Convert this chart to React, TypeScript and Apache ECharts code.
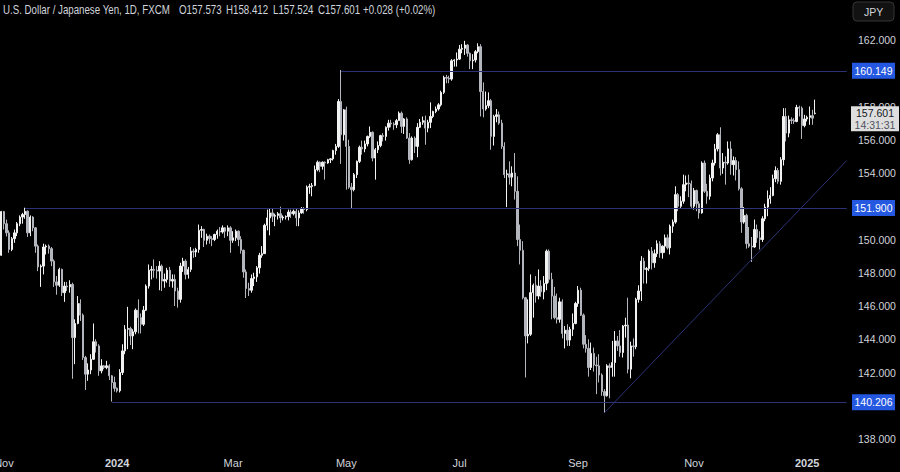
import React, { useEffect, useRef } from 'react';
import * as echarts from 'echarts';

const FONT = "'Liberation Sans', Arial, sans-serif";

// [open, close, low, high] per trading day
const oct23 = [[149.05, 151.68, 149.02, 151.72]];
const nov23 = [
  [151.68, 150.95, 150.6, 151.72], [150.95, 150.4, 150.18, 151.2], [150.4, 149.4, 149.2, 150.55],
  [149.4, 150.05, 149.3, 150.15], [150.05, 150.4, 149.8, 150.6], [150.4, 150.95, 150.2, 151.05],
  [150.95, 151.35, 150.8, 151.45], [151.35, 151.5, 150.95, 151.6], [151.5, 151.7, 151.25, 151.91],
  [151.7, 150.4, 150.15, 151.75], [150.4, 151.35, 150.2, 151.45], [151.35, 150.7, 150.5, 151.4],
  [150.7, 149.6, 149.2, 150.75], [149.6, 148.35, 148.1, 149.7], [148.35, 148.4, 147.15, 148.5],
  [148.4, 149.55, 147.9, 149.75], [149.55, 149.6, 149.1, 149.7], [149.6, 149.45, 149.15, 149.7],
  [149.45, 148.7, 148.4, 149.55], [148.7, 147.45, 147.15, 148.8], [147.45, 147.25, 146.68, 147.8],
  [147.25, 148.2, 147.15, 148.3],
];
const dec23 = [
  [148.2, 146.8, 146.6, 148.25], [146.8, 147.2, 146.25, 147.45], [147.2, 147.15, 146.9, 147.45],
  [147.15, 147.3, 146.8, 147.55], [147.3, 144.1, 141.62, 147.4], [144.1, 144.95, 142.5, 145.2],
  [144.95, 146.15, 144.9, 146.6], [146.15, 145.45, 145.1, 146.4], [145.45, 142.9, 142.75, 145.55],
  [142.9, 141.9, 140.95, 143.0], [141.9, 142.15, 141.5, 142.55], [142.15, 142.8, 141.9, 143.1],
  [142.8, 143.85, 142.75, 144.95], [143.85, 143.6, 143.2, 144.0], [143.6, 142.1, 141.8, 143.7],
  [142.1, 142.4, 141.95, 142.8], [142.4, 142.3, 142.2, 142.45], [142.3, 142.4, 142.2, 142.7],
  [142.4, 141.8, 141.55, 142.5], [141.8, 141.4, 140.25, 141.85], [141.4, 141.05, 140.85, 141.75],
];
const jan24 = [
  [141.05, 140.9, 140.8, 141.1], [140.9, 142.0, 140.8, 142.2], [142.0, 143.3, 141.85, 143.7],
  [143.3, 144.6, 143.1, 144.85], [144.6, 144.65, 143.4, 145.95], [144.65, 144.2, 143.65, 144.75],
  [144.2, 144.45, 143.4, 144.6], [144.45, 145.75, 144.3, 145.85], [145.75, 145.3, 144.35, 146.4],
  [145.3, 144.9, 144.35, 145.55], [144.9, 145.75, 144.8, 146.0], [145.75, 147.2, 145.7, 147.3],
  [147.2, 148.15, 147.05, 148.5], [148.15, 148.2, 147.6, 148.4], [148.2, 148.15, 147.7, 148.8],
  [148.15, 148.1, 147.65, 148.4], [148.1, 148.4, 146.95, 148.7], [148.4, 147.5, 146.9, 148.5],
  [147.5, 147.6, 147.1, 147.95], [147.6, 148.15, 147.4, 148.3], [148.15, 147.5, 147.15, 148.35],
  [147.5, 147.6, 147.1, 147.9], [147.6, 146.9, 146.0, 147.9],
];
const feb24 = [
  [146.9, 146.4, 145.9, 147.1], [146.4, 148.4, 146.2, 148.6], [148.4, 148.7, 148.05, 148.9],
  [148.7, 147.9, 147.6, 148.8], [147.9, 148.2, 147.65, 148.35], [148.2, 149.3, 148.05, 149.55],
  [149.3, 149.25, 148.9, 149.45], [149.25, 149.4, 148.95, 149.5], [149.4, 150.55, 149.2, 150.9],
  [150.55, 150.6, 150.1, 150.8], [150.6, 149.95, 149.55, 150.65], [149.95, 150.2, 149.7, 150.35],
  [150.2, 150.05, 149.75, 150.3], [150.05, 150.0, 149.6, 150.2], [150.0, 150.3, 149.9, 150.35],
  [150.3, 150.5, 150.05, 150.6], [150.5, 150.45, 150.2, 150.75], [150.45, 150.7, 150.35, 150.85],
  [150.7, 150.5, 150.1, 150.75], [150.5, 150.7, 150.2, 150.85], [150.7, 149.95, 149.2, 150.8],
];
const mar24 = [
  [149.95, 150.1, 149.8, 150.5], [150.1, 150.5, 149.9, 150.6], [150.5, 150.0, 149.6, 150.55],
  [150.0, 149.35, 149.15, 150.2], [149.35, 148.05, 147.7, 149.4], [148.05, 147.05, 146.48, 148.2],
  [147.05, 146.95, 146.6, 147.4], [146.95, 147.65, 146.8, 147.9], [147.65, 147.75, 147.2, 148.0],
  [147.75, 148.3, 147.45, 148.4], [148.3, 149.05, 147.95, 149.2], [149.05, 149.15, 148.9, 149.6],
  [149.15, 150.85, 149.15, 150.95], [150.85, 151.3, 150.55, 151.8], [151.3, 151.6, 150.25, 151.85],
  [151.6, 151.4, 151.05, 151.85], [151.4, 151.45, 150.8, 151.55], [151.45, 151.55, 151.2, 151.65],
  [151.55, 151.3, 151.0, 151.97], [151.3, 151.35, 151.15, 151.45], [151.35, 151.38, 151.2, 151.45],
];
const apr24 = [
  [151.38, 151.65, 151.15, 151.8], [151.65, 151.55, 151.3, 151.8], [151.55, 151.7, 151.45, 151.8],
  [151.7, 151.3, 150.8, 151.85], [151.3, 151.6, 150.8, 151.75], [151.6, 151.85, 151.55, 151.95],
  [151.85, 151.8, 151.55, 151.95], [151.8, 153.15, 151.7, 153.25], [153.15, 153.2, 152.75, 153.35],
  [153.2, 153.25, 152.6, 153.4], [153.25, 154.2, 153.2, 154.45], [154.2, 154.65, 154.1, 154.75],
  [154.65, 154.4, 154.05, 154.7], [154.4, 154.65, 154.2, 154.7], [154.65, 154.6, 153.6, 154.7],
  [154.6, 154.8, 154.55, 154.85], [154.8, 154.85, 154.6, 154.9], [154.85, 155.35, 154.75, 155.4],
  [155.35, 155.6, 155.1, 155.75], [155.6, 158.3, 155.5, 158.45], [158.3, 156.3, 154.55, 160.2],
  [156.3, 157.8, 155.95, 157.85],
];
const may24 = [
  [157.8, 155.6, 153.0, 157.99], [155.6, 153.15, 153.05, 156.0], [153.15, 153.0, 151.86, 153.4],
  [153.0, 153.9, 152.9, 154.0], [153.9, 154.7, 153.7, 154.75], [154.7, 155.55, 154.6, 155.65],
  [155.55, 155.45, 155.1, 155.95], [155.45, 155.75, 155.25, 155.95], [155.75, 156.2, 155.6, 156.25],
  [156.2, 156.45, 156.1, 156.8], [156.45, 154.9, 154.7, 156.5], [154.9, 155.4, 153.6, 155.5],
  [155.4, 155.65, 155.2, 155.9], [155.65, 156.25, 155.55, 156.3], [156.25, 156.2, 155.9, 156.4],
  [156.2, 156.75, 155.95, 156.8], [156.75, 157.0, 156.55, 157.2], [157.0, 156.95, 156.75, 157.2],
  [156.95, 156.9, 156.6, 157.05], [156.9, 157.15, 156.7, 157.25], [157.15, 157.6, 157.15, 157.7],
  [157.6, 156.8, 156.4, 157.7], [156.8, 157.25, 156.35, 157.3],
];
const jun24 = [
  [157.25, 156.1, 156.05, 157.35], [156.1, 154.8, 154.55, 156.4], [154.8, 156.1, 154.75, 156.2],
  [156.1, 155.6, 155.2, 156.2], [155.6, 156.75, 154.95, 157.0], [156.75, 157.05, 156.7, 157.25],
  [157.05, 157.15, 156.9, 157.4], [157.15, 156.7, 155.7, 157.45], [156.7, 157.05, 156.45, 157.2],
  [157.05, 157.4, 156.7, 158.25], [157.4, 157.7, 157.3, 157.75], [157.7, 157.85, 157.6, 158.0],
  [157.85, 158.1, 157.75, 158.2], [158.1, 158.85, 158.0, 158.95], [158.85, 159.75, 158.75, 159.85],
  [159.75, 159.7, 159.4, 159.9], [159.7, 159.65, 159.4, 159.85], [159.65, 160.75, 159.55, 160.85],
  [160.75, 160.8, 160.4, 160.85], [160.8, 160.85, 160.4, 161.25],
];
const jul24 = [
  [160.85, 161.45, 160.8, 161.7], [161.45, 161.5, 161.2, 161.75], [161.5, 161.7, 161.1, 161.95],
  [161.7, 161.2, 161.0, 161.75], [161.2, 160.75, 160.25, 161.25], [160.75, 160.8, 160.25, 161.15],
  [160.8, 161.3, 160.65, 161.4], [161.3, 161.6, 161.2, 161.8], [161.6, 158.9, 157.4, 161.75],
  [158.9, 157.85, 157.35, 159.45], [157.85, 158.05, 157.75, 158.9], [158.05, 158.35, 157.9, 158.85],
  [158.35, 156.2, 155.4, 158.45], [156.2, 157.4, 155.65, 157.5], [157.4, 157.5, 157.05, 157.85],
  [157.5, 157.0, 156.9, 157.7], [157.0, 155.6, 155.45, 157.2], [155.6, 153.9, 153.7, 155.85],
  [153.9, 153.95, 151.95, 154.2], [153.95, 153.75, 153.3, 154.7], [153.75, 154.0, 153.2, 154.4],
  [154.0, 152.9, 152.4, 155.2], [152.9, 150.0, 149.6, 153.8],
];
const aug24 = [
  [150.0, 149.35, 148.5, 150.9], [149.35, 146.5, 146.4, 149.9], [146.5, 144.2, 141.7, 146.55],
  [144.2, 144.3, 143.75, 146.4], [144.3, 146.8, 144.2, 147.9], [146.8, 147.25, 145.3, 147.35],
  [147.25, 146.6, 146.2, 147.8], [146.6, 147.2, 146.4, 148.2], [147.2, 146.85, 146.55, 147.55],
  [146.85, 147.35, 146.4, 147.8], [147.35, 149.3, 146.95, 149.4], [149.3, 147.6, 147.4, 149.4],
  [147.6, 146.6, 145.2, 148.0], [146.6, 145.3, 145.2, 147.15], [145.3, 145.2, 144.95, 146.75],
  [145.2, 146.25, 145.0, 146.5], [146.25, 144.35, 144.05, 146.4], [144.35, 144.55, 143.45, 144.8],
  [144.55, 143.95, 143.6, 144.9], [143.95, 144.6, 143.6, 144.75], [144.6, 144.95, 144.2, 145.55],
  [144.95, 146.15, 144.9, 146.25],
];
const sep24 = [
  [146.15, 146.95, 145.95, 147.2], [146.95, 145.45, 145.4, 147.1], [145.45, 143.7, 143.45, 145.55],
  [143.7, 143.45, 143.2, 144.25], [143.45, 142.3, 141.75, 144.0], [142.3, 143.15, 142.15, 143.8],
  [143.15, 142.45, 142.05, 143.5], [142.45, 142.4, 140.7, 142.95], [142.4, 141.85, 141.4, 143.1],
  [141.85, 140.85, 140.6, 141.95], [140.85, 140.6, 139.58, 141.0], [140.6, 142.4, 140.55, 142.5],
  [142.4, 142.3, 140.45, 142.55], [142.3, 142.6, 141.75, 143.9], [142.6, 143.9, 141.75, 144.5],
  [143.9, 143.6, 143.3, 144.2], [143.6, 143.2, 142.95, 144.55], [143.2, 144.8, 142.9, 144.85],
  [144.8, 144.85, 144.1, 145.3], [144.85, 142.2, 141.95, 146.5], [142.2, 143.6, 141.65, 143.85],
];
const oct24 = [
  [143.6, 143.55, 142.95, 144.05], [143.55, 146.4, 143.4, 146.5], [146.4, 146.9, 146.2, 147.25],
  [146.9, 148.7, 146.3, 149.0], [148.7, 148.2, 147.35, 148.9], [148.2, 148.25, 147.35, 148.35],
  [148.25, 149.3, 148.1, 149.4], [149.3, 148.6, 148.2, 149.55], [148.6, 149.15, 148.3, 149.4],
  [149.15, 149.75, 148.95, 149.95], [149.75, 149.2, 148.9, 149.9], [149.2, 149.6, 148.85, 149.65],
  [149.6, 150.1, 149.2, 150.3], [150.1, 149.5, 149.4, 150.3], [149.5, 150.8, 149.1, 150.9],
  [150.8, 151.05, 150.4, 151.2], [151.05, 152.7, 150.95, 153.2], [152.7, 152.0, 151.7, 152.8],
  [152.0, 152.3, 151.9, 152.6], [152.3, 153.3, 152.15, 153.9], [153.3, 153.4, 152.9, 153.85],
  [153.4, 153.35, 152.55, 153.9], [153.35, 152.0, 151.9, 153.55],
];
const nov24 = [
  [152.0, 152.95, 151.8, 153.1], [152.95, 152.15, 151.7, 153.0], [152.15, 151.6, 151.25, 152.3],
  [151.6, 154.6, 151.55, 154.7], [154.6, 152.9, 152.8, 154.75], [152.9, 152.6, 152.15, 153.35],
  [152.6, 153.7, 152.4, 153.9], [153.7, 154.6, 153.5, 154.8], [154.6, 155.45, 154.45, 155.75],
  [155.45, 156.3, 155.3, 156.4], [156.3, 154.3, 153.85, 156.75], [154.3, 154.65, 153.95, 155.2],
  [154.65, 154.6, 153.3, 155.0], [154.6, 155.45, 154.5, 155.9], [155.45, 154.5, 153.9, 155.9],
  [154.5, 154.75, 153.85, 155.0], [154.75, 154.2, 153.55, 154.95], [154.2, 153.05, 152.95, 154.7],
  [153.05, 151.05, 150.4, 153.15], [151.05, 151.45, 150.95, 151.95], [151.45, 149.75, 149.45, 151.55],
];
const dec24 = [
  [149.75, 149.6, 149.5, 150.75], [149.6, 149.55, 148.65, 150.15], [149.55, 150.6, 149.5, 151.2],
  [150.6, 150.1, 149.8, 150.9], [150.1, 150.0, 149.4, 150.5], [150.0, 151.25, 149.85, 151.4],
  [151.25, 151.95, 151.1, 152.15], [151.95, 152.45, 151.4, 152.95], [152.45, 152.65, 152.15, 153.15],
  [152.65, 153.65, 152.6, 153.9], [153.65, 154.15, 153.45, 154.4], [154.15, 153.5, 153.35, 154.3],
  [153.5, 154.8, 153.3, 154.95], [154.8, 157.4, 154.45, 157.9], [157.4, 156.4, 155.9, 157.9],
  [156.4, 157.2, 156.15, 157.45], [157.2, 157.15, 156.95, 157.35], [157.15, 157.1, 156.95, 157.3],
  [157.1, 157.95, 157.05, 158.1], [157.95, 157.9, 157.4, 158.05], [157.9, 156.85, 156.05, 158.0],
  [156.85, 157.25, 156.75, 157.5],
];
const jan25 = [
  [157.25, 157.35, 157.1, 157.45], [157.35, 157.45, 156.9, 158.0], [157.45, 157.3, 156.9, 157.8],
  [157.573, 157.601, 157.524, 158.412],
];

const ohlc = [
  ...oct23, ...nov23, ...dec23, ...jan24, ...feb24, ...mar24, ...apr24, ...may24,
  ...jun24, ...jul24, ...aug24, ...sep24, ...oct24, ...nov24, ...dec24, ...jan25,
];

// tick labels that the level boxes cover (140, 152, 160) are not drawn in the reference
const yTicks = [138, 142, 144, 146, 148, 150, 154, 156, 158, 162];
const Y_MIN = 137.459;
const Y_MAX = 164.406;
const labelMonths = [0, 2, 4, 6, 8, 10];
const monthNames = ['Jan', 'Feb', 'Mar', 'Apr', 'May', 'Jun', 'Jul', 'Aug', 'Sep', 'Oct', 'Nov', 'Dec'];

const levels = [
  { from: '2023-11-13', price: 151.9 },
  { from: '2023-12-28', price: 140.206 },
  { from: '2024-04-29', price: 160.149 },
];
const trendFrom = { date: '2024-09-16', price: 139.58 };
const trendToPrice = 154.75;

const lastPrice = 157.601;
const countdown = '14:31:31';
const titleParts = [
  'U.S. Dollar / Japanese Yen, 1D, FXCM',
  'O157.573',
  'H158.412',
  'L157.524',
  'C157.601',
  '+0.028 (+0.02%)',
];

const TOTAL_SLOTS = 322;

function weekdayDates(n: number): string[] {
  const out: string[] = [];
  let t = Date.UTC(2023, 9, 31);
  while (out.length < n) {
    const d = new Date(t);
    const wd = d.getUTCDay();
    if (wd !== 0 && wd !== 6) out.push(d.toISOString().slice(0, 10));
    t += 86400000;
  }
  return out;
}

export default function App() {
  const ref = useRef<HTMLDivElement>(null);
  useEffect(() => {
    document.body.style.margin = '0';
    document.body.style.background = '#000';
    if (!ref.current) return;
    const chart = echarts.init(ref.current, null, { renderer: 'svg' });
    const dates = weekdayDates(TOTAL_SLOTS);
    const lastCat = dates[dates.length - 1];
    const showIdx = new Set<number>();
    for (let i = 1; i < dates.length; i++) {
      const m = parseInt(dates[i].slice(5, 7), 10) - 1;
      const pm = parseInt(dates[i - 1].slice(5, 7), 10) - 1;
      if (m !== pm && labelMonths.includes(m)) showIdx.add(i);
    }
    const lineColor = '#2c3275';
    chart.setOption({
      animation: false,
      backgroundColor: '#000000',
      grid: { left: 0, right: 52, top: 0, bottom: 24, containLabel: false, outerBoundsMode: 'none' },
      xAxis: {
        type: 'category',
        data: dates,
        boundaryGap: true,
        axisLine: { show: false },
        axisTick: { show: false },
        splitLine: { show: false },
        axisLabel: {
          interval: (i: number) => showIdx.has(i),
          formatter: (v: string) => {
            const m = parseInt(v.slice(5, 7), 10) - 1;
            if (m === 0) return '{y|' + v.slice(0, 4) + '}';
            return monthNames[m];
          },
          color: '#d1d4dc',
          fontSize: 11,
          fontFamily: FONT,
          margin: 9,
          rich: { y: { fontWeight: 'bold', color: '#d1d4dc', fontSize: 11, fontFamily: FONT } },
        },
      },
      yAxis: {
        type: 'value',
        position: 'right',
        min: Y_MIN,
        max: Y_MAX,
        axisLine: { show: false },
        axisTick: { show: false },
        splitLine: { show: false },
        axisLabel: {
          customValues: yTicks,
          formatter: (v: number) => v.toFixed(3),
          color: '#d1d4dc',
          fontSize: 10.5,
          fontFamily: FONT,
          margin: 10,
        },
      },
      series: [
        {
          type: 'candlestick',
          data: ohlc,
          barWidth: '70%',
          barMaxWidth: 2,
          itemStyle: {
            color: '#f2f2f2',
            color0: '#b4b6bd',
            borderColor: '#f2f2f2',
            borderColor0: '#b4b6bd',
            borderWidth: 1,
          },
          markLine: {
            silent: true,
            symbol: 'none',
            animation: false,
            label: { show: false },
            lineStyle: { color: lineColor, width: 1, type: 'solid', opacity: 1 },
            data: [
              ...levels.map((l) => [
                { coord: [l.from, l.price] },
                { coord: [lastCat, l.price] },
              ]),
              [
                { coord: [trendFrom.date, trendFrom.price] },
                { coord: [lastCat, trendToPrice] },
              ],
            ],
          },
        },
      ],
    });

    const yPix = (v: number) => chart.convertToPixel({ yAxisIndex: 0 }, v) as number;
    const graphics: any[] = [];
    const titleX = [3, 179, 226, 273, 318, 363];
    titleParts.forEach((t, i) => {
      graphics.push({
        type: 'text',
        x: titleX[i],
        y: 10,
        scaleX: 0.81,
        z: 100,
        style: { text: t, fill: '#d1d4dc', font: `12px ${FONT}`, verticalAlign: 'middle' },
      });
    });
    graphics.push({
      type: 'rect',
      z: 100,
      shape: { x: 853, y: 2, width: 41, height: 19, r: 4 },
      style: { fill: '#121212', stroke: '#353535', lineWidth: 1 },
    });
    graphics.push({
      type: 'text',
      z: 101,
      x: 873.5,
      y: 11.5,
      style: { text: 'JPY', fill: '#d1d4dc', font: `10.5px ${FONT}`, align: 'center', verticalAlign: 'middle' },
    });
    levels.forEach((l) => {
      const y = yPix(l.price);
      graphics.push({
        type: 'rect',
        z: 100,
        shape: { x: 852, y: y - 8, width: 43, height: 16 },
        style: { fill: '#2558e0' },
      });
      graphics.push({
        type: 'text',
        z: 101,
        x: 873.5,
        y: y,
        style: { text: l.price.toFixed(3), fill: '#ffffff', font: `10.5px ${FONT}`, align: 'center', verticalAlign: 'middle' },
      });
    });
    const ly = yPix(lastPrice);
    graphics.push({
      type: 'rect',
      z: 100,
      shape: { x: 851, y: ly - 7, width: 48, height: 25 },
      style: { fill: '#dedede' },
    });
    graphics.push({
      type: 'text',
      z: 101,
      x: 875,
      y: ly,
      style: { text: lastPrice.toFixed(3), fill: '#131722', font: `10.5px ${FONT}`, align: 'center', verticalAlign: 'middle' },
    });
    graphics.push({
      type: 'text',
      z: 101,
      x: 875,
      y: ly + 12,
      style: { text: countdown, fill: '#4f5260', font: `10.5px ${FONT}`, align: 'center', verticalAlign: 'middle' },
    });
    chart.setOption({ graphic: graphics });

    return () => chart.dispose();
  }, []);
  return <div ref={ref} style={{ width: 900, height: 472 }} />;
}
